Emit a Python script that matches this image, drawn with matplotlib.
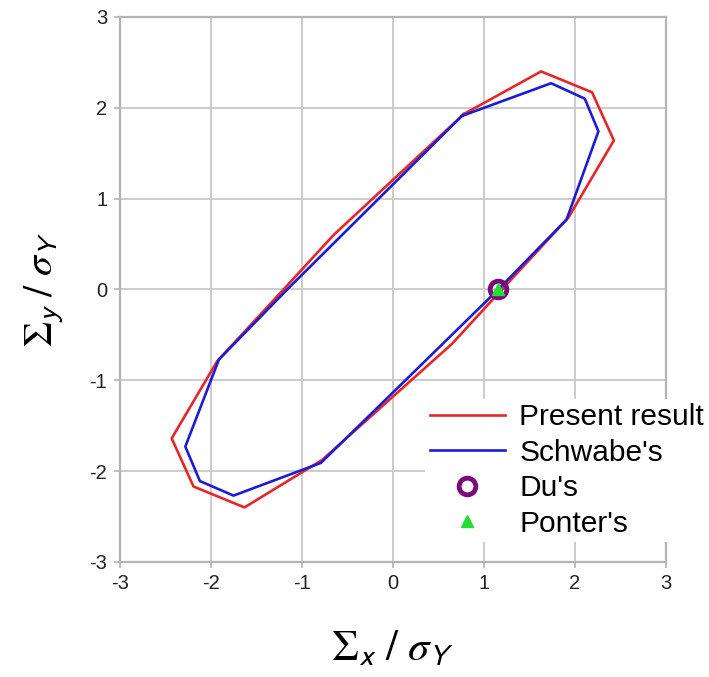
import matplotlib.pyplot as plt

# Present result (closed loop)
present_x = [0.78, 1.63, 2.19, 2.43, 1.93, 1.20, 0.65, -0.78, -1.63, -2.19, -2.43, -1.93, -1.20, -0.65, 0.78]
present_y = [1.93, 2.40, 2.17, 1.64, 0.79, 0.00, -0.60, -1.88, -2.40, -2.17, -1.64, -0.79, 0.00, 0.60, 1.93]

# Schwabe's (closed loop)
schwabe_x = [0.76, 1.74, 2.11, 2.26, 1.91, 1.16, -0.79, -1.75, -2.12, -2.28, -1.91, -1.16, 0.76]
schwabe_y = [1.91, 2.27, 2.10, 1.74, 0.77, 0.00, -1.91, -2.27, -2.11, -1.73, -0.77, 0.00, 1.91]

du_x, du_y = [1.16], [0.0]
ponter_x, ponter_y = [1.16], [0.0]

plt.rcParams['font.family'] = ['Liberation Sans', 'DejaVu Sans']
plt.rcParams['mathtext.fontset'] = 'stix'
plt.rcParams['axes.unicode_minus'] = False

fig = plt.figure(figsize=(7.09, 6.77), dpi=100)
ax = fig.add_axes([0.169, 0.170, 0.770, 0.805])

ax.plot(present_x, present_y, color='#e8262a', lw=1.9, label='Present result', zorder=3)
ax.plot(schwabe_x, schwabe_y, color='#1c1cd6', lw=1.9, label="Schwabe's", zorder=3)
ax.plot(du_x, du_y, 'o', ms=12, mfc='none', mec='#7b0a7e', mew=3.5, label="Du's", zorder=4)
ax.plot(ponter_x, ponter_y, '^', ms=8, color='#22dd33', label="Ponter's", zorder=5)

ax.set_xlim(-3, 3)
ax.set_ylim(-3, 3)
ax.set_xticks(range(-3, 4))
ax.set_yticks(range(-3, 4))
ax.grid(True, color='#cccccc', lw=1.4)
ax.set_axisbelow(True)
for s in ax.spines.values():
    s.set_color('#b4b4b4')
    s.set_linewidth(1.6)
ax.tick_params(colors='#b4b4b4', labelcolor='#222222', labelsize=14.5, length=4, width=1.2, pad=5)

ax.set_xlabel(r'$\mathit{\Sigma}_{\mathsf{x}}\ /\ \mathit{\sigma}_{\mathsf{Y}}$', fontsize=31, labelpad=26)
ax.set_ylabel(r'$\mathit{\Sigma}_{\mathsf{y}}\ /\ \mathit{\sigma}_{\mathsf{Y}}$', fontsize=29, labelpad=17)

leg = fig.legend(loc='upper left', bbox_to_anchor=(0.600, 0.411), frameon=True,
                 fontsize=21.5, handlelength=2.5, handletextpad=0.5,
                 labelspacing=0.25, borderpad=0.15, borderaxespad=0)
leg.get_frame().set_edgecolor('none')
leg.get_frame().set_facecolor('white')
leg.get_frame().set_alpha(1)

fig.savefig('out.png', dpi=100)
